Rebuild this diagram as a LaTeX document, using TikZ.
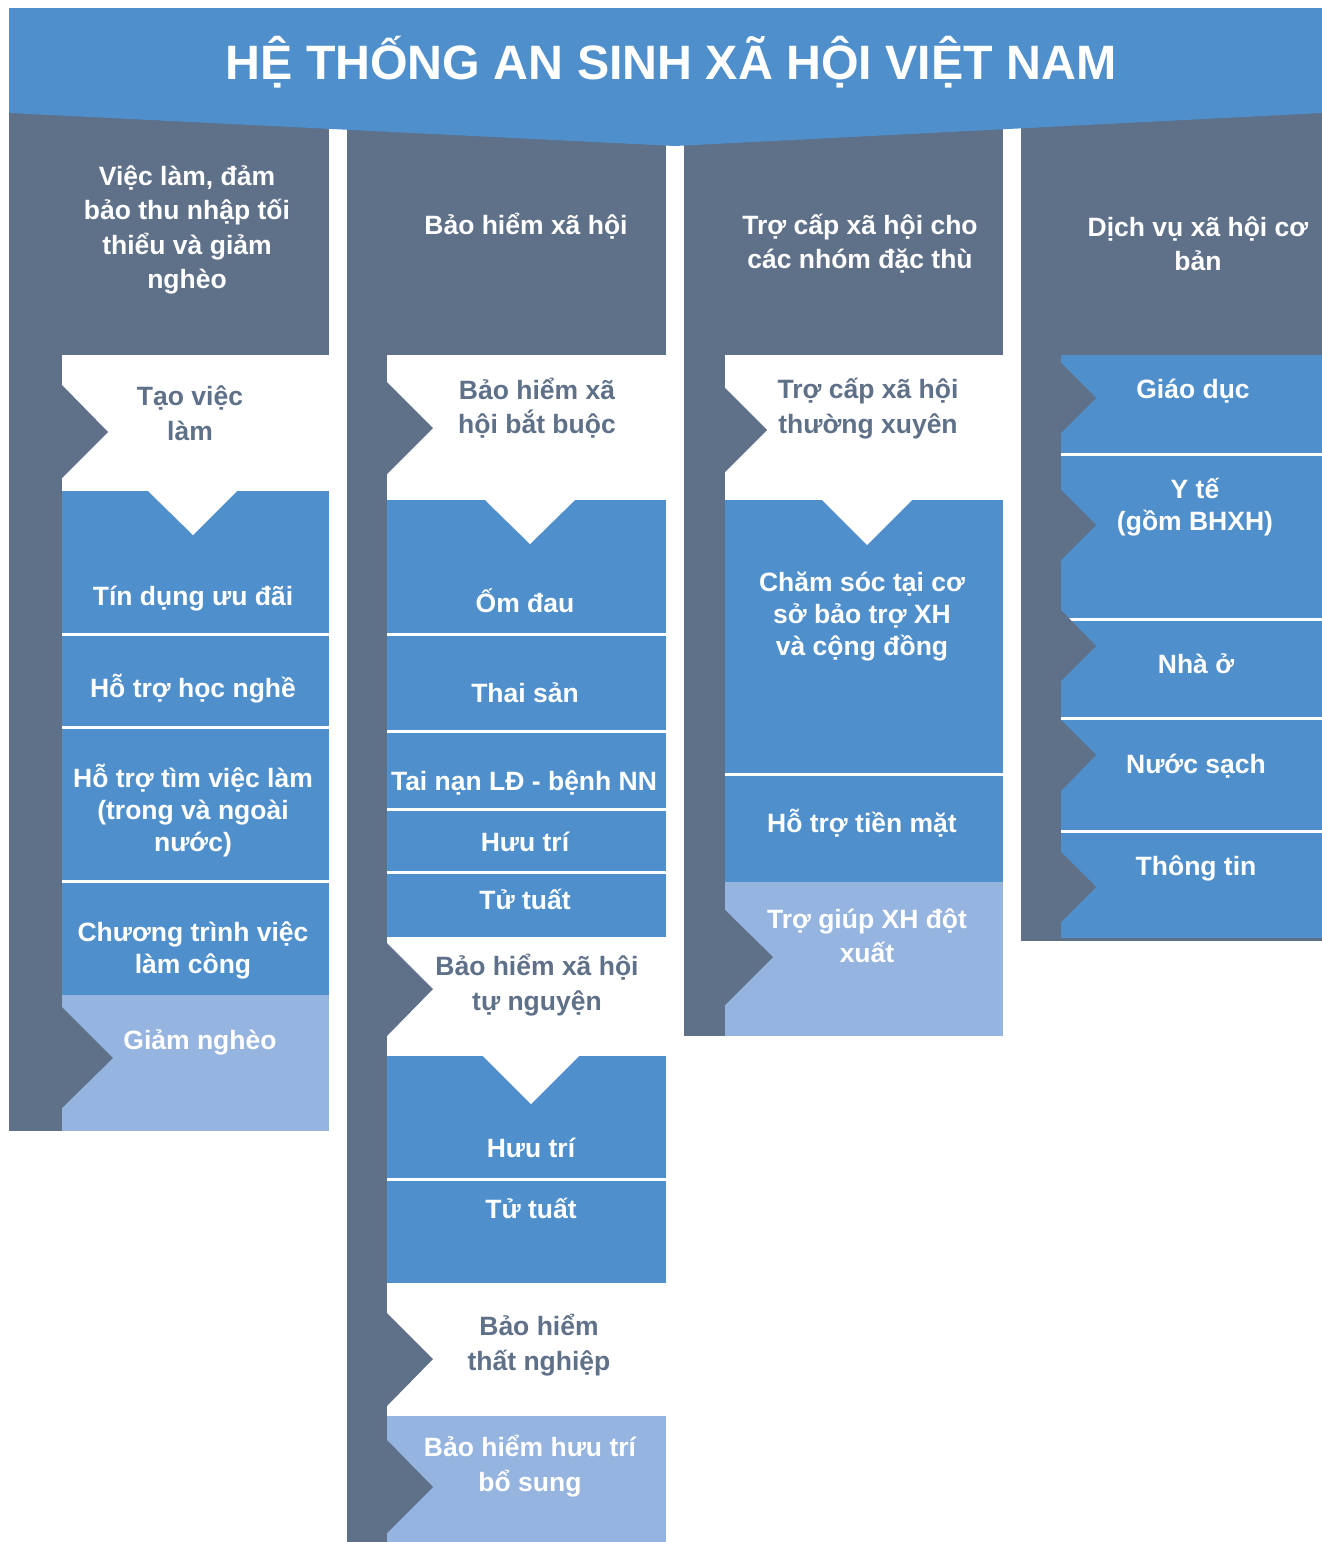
\documentclass[tikz,border=0pt]{standalone}
\usepackage{fontspec}
\setmainfont{Liberation Sans}
\definecolor{dk}{HTML}{5F7089}
\definecolor{bl}{HTML}{4F8FCB}
\definecolor{lb}{HTML}{95B4DF}
\begin{document}
\begin{tikzpicture}[x=1pt,y=-1pt,
  txt/.style={inner sep=0pt,align=center,text=white,font=\bfseries\fontsize{26.5}{34.5}\selectfont},
  txtg/.style={txt,text=dk},
  tight/.style={font=\bfseries\fontsize{26.5}{32}\selectfont},
  sep/.style={draw=white,line width=3pt},
  notch/.style={fill=dk},
  vtri/.style={fill=white}]
\useasboundingbox (0,0) rectangle (1322,1542);
\fill[white] (0,0) rectangle (1322,1542);
% columns
\fill[dk] (9,113) rectangle (329,1131);
\fill[dk] (347,113) rectangle (666,1542);
\fill[dk] (684,113) rectangle (1003,1036);
\fill[dk] (1021,113) rectangle (1322,941);
% banner
\fill[bl] (9,8) -- (1322,8) -- (1322,113) -- (675,146) -- (9,113) -- cycle;
\node[txt,font=\bfseries\fontsize{48.3}{56}\selectfont] (title) at (671,62) {HỆ THỐNG AN SINH XÃ HỘI VIỆT NAM};

% ---------- column 1
\fill[white] (62,355) rectangle (329,491);
\fill[notch] (62,385) -- (108,432) -- (62,478) -- cycle;
\fill[bl] (62,491) rectangle (329,995);
\fill[vtri] (148,491) -- (193,535) -- (237,491) -- cycle;
\draw[sep] (62,634.5) -- (329,634.5);
\draw[sep] (62,727.5) -- (329,727.5);
\draw[sep] (62,881.5) -- (329,881.5);
\fill[lb] (62,995) rectangle (329,1131);
\fill[notch] (62,1007) -- (113,1058) -- (62,1108) -- cycle;

\node[txt] (h1) at (187,230) {Việc làm, đảm\\bảo thu nhập tối\\thiểu và giảm\\nghèo};
\node[txtg] (a1) at (190,413) {Tạo việc\\làm};
\node[txt] (a2) at (193,599) {Tín dụng ưu đãi};
\node[txt] (a3) at (193,689) {Hỗ trợ học nghề};
\node[txt,tight] (a4) at (193,811) {Hỗ trợ tìm việc làm\\(trong và ngoài\\nước)};
\node[txt,tight] (a5) at (193,950) {Chương trình việc\\làm công};
\node[txt] (a6) at (200,1042) {Giảm nghèo};

% ---------- column 2
\fill[white] (387,355) rectangle (666,500);
\fill[notch] (387,382) -- (433,428) -- (387,474) -- cycle;
\fill[bl] (387,500) rectangle (666,937);
\fill[vtri] (485,500) -- (530,544) -- (575,500) -- cycle;
\draw[sep] (387,634) -- (666,634);
\draw[sep] (387,731) -- (666,731);
\draw[sep] (387,809) -- (666,809);
\draw[sep] (387,872) -- (666,872);
\fill[white] (387,937) rectangle (666,1056);
\fill[notch] (387,943) -- (433,989) -- (387,1036) -- cycle;
\fill[bl] (387,1056) rectangle (666,1283);
\fill[vtri] (483,1056) -- (531,1104) -- (579,1056) -- cycle;
\draw[sep] (387,1179.5) -- (666,1179.5);
\fill[white] (387,1283) rectangle (666,1416);
\fill[notch] (387,1313) -- (433,1359) -- (387,1406) -- cycle;
\fill[lb] (387,1416) rectangle (666,1542);
\fill[notch] (387,1440) -- (433,1487) -- (387,1533) -- cycle;

\node[txt] (h2) at (526,226) {Bảo hiểm xã hội};
\node[txtg] (b1) at (537,408) {Bảo hiểm xã\\hội bắt buộc};
\node[txt] (b2) at (525,601) {Ốm đau};
\node[txt] (b3) at (525,693) {Thai sản};
\node[txt] (b4) at (524,783) {Tai nạn LĐ - bệnh NN};
\node[txt] (b5) at (525,842) {Hưu trí};
\node[txt] (b6) at (525,899) {Tử tuất};
\node[txtg] (b7) at (537,985) {Bảo hiểm xã hội\\tự nguyện};
\node[txt] (b8) at (531,1148) {Hưu trí};
\node[txt] (b9) at (531,1208) {Tử tuất};
\node[txtg] (b10) at (539,1345) {Bảo hiểm\\thất nghiệp};
\node[txt] (b11) at (530,1466) {Bảo hiểm hưu trí\\bổ sung};

% ---------- column 3
\fill[white] (725,355) rectangle (1003,500);
\fill[notch] (725,388) -- (767,430) -- (725,472) -- cycle;
\fill[bl] (725,500) rectangle (1003,882);
\fill[vtri] (822,500) -- (867,545) -- (912,500) -- cycle;
\draw[sep] (725,774.5) -- (1003,774.5);
\fill[lb] (725,882) rectangle (1003,1036);
\fill[notch] (725,910) -- (773,957) -- (725,1005) -- cycle;

\node[txt] (h3) at (860,243.5) {Trợ cấp xã hội cho\\các nhóm đặc thù};
\node[txtg] (c1) at (868,408.5) {Trợ cấp xã hội\\thường xuyên};
\node[txt,tight] (c2) at (862,616.5) {Chăm sóc tại cơ\\sở bảo trợ XH\\và cộng đồng};
\node[txt] (c3) at (862,823) {Hỗ trợ tiền mặt};
\node[txt] (c4) at (867,935.5) {Trợ giúp XH đột\\xuất};

% ---------- column 4
\fill[bl] (1061,355) rectangle (1322,938);
\draw[sep] (1061,454.5) -- (1322,454.5);
\draw[sep] (1061,619.5) -- (1322,619.5);
\draw[sep] (1061,718.5) -- (1322,718.5);
\draw[sep] (1061,831.5) -- (1322,831.5);
\fill[notch] (1061,363) -- (1096,398) -- (1061,433) -- cycle;
\fill[notch] (1061,490) -- (1096,525) -- (1061,560) -- cycle;
\fill[notch] (1061,610) -- (1096,646) -- (1061,681) -- cycle;
\fill[notch] (1061,720) -- (1096,755) -- (1061,791) -- cycle;
\fill[notch] (1061,852) -- (1096,887) -- (1061,922) -- cycle;

\node[txt] (h4) at (1198,243.5) {Dịch vụ xã hội cơ\\bản};
\node[txt] (d1) at (1193,391) {Giáo dục};
\node[txt,tight] (d2) at (1195,507) {Y tế\\(gồm BHXH)};
\node[txt] (d3) at (1196,664) {Nhà ở};
\node[txt] (d4) at (1196,766) {Nước sạch};
\node[txt] (d5) at (1196,868) {Thông tin};
\end{tikzpicture}
\end{document}
